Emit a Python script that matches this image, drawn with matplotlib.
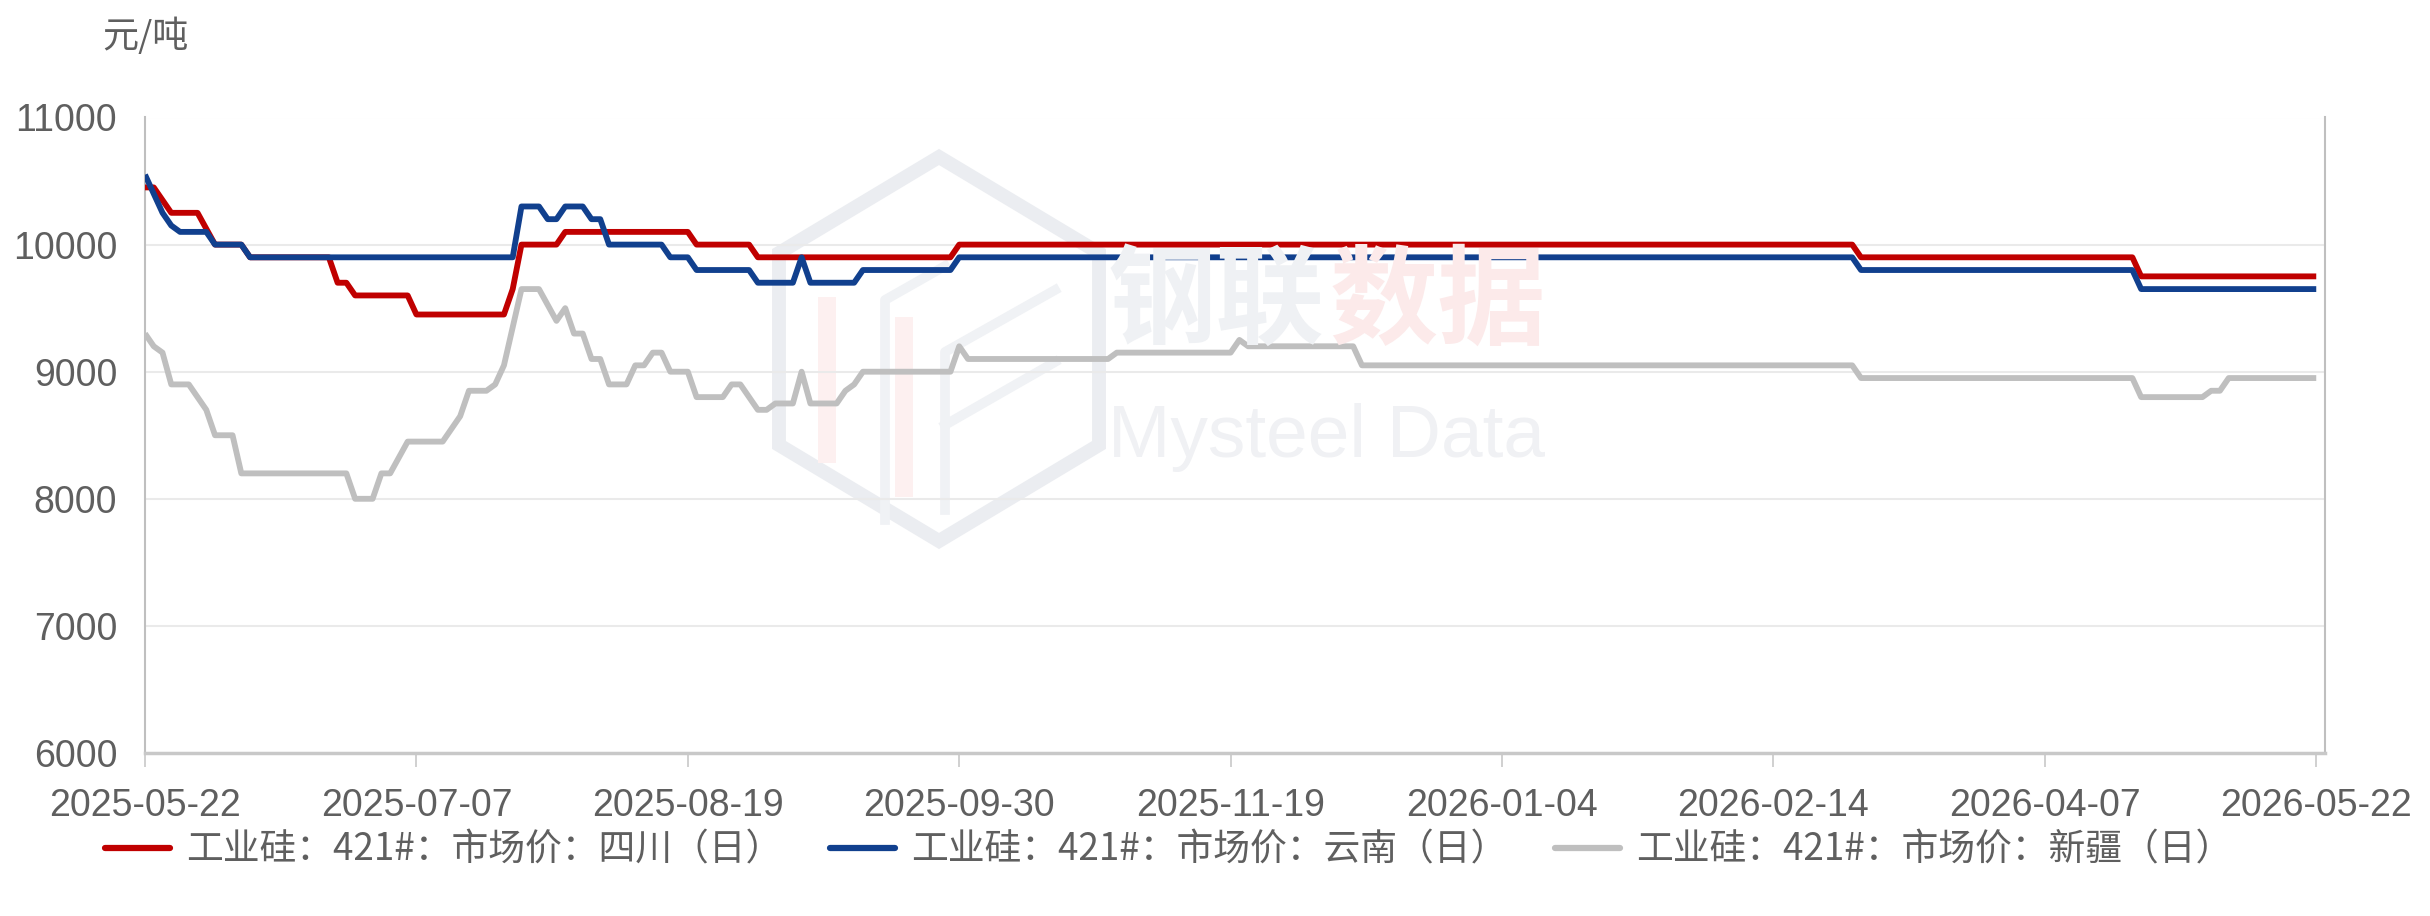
import numpy as np
import matplotlib
matplotlib.use("Agg")
import matplotlib.pyplot as plt
from matplotlib.lines import Line2D
from matplotlib.patches import Polygon, Rectangle

# x axis = trading-day index, labelled every 31 days
date_labels = ["2025-05-22", "2025-07-07", "2025-08-19", "2025-09-30", "2025-11-19",
               "2026-01-04", "2026-02-14", "2026-04-07", "2026-05-22"]
date_idx = [0, 31, 62, 93, 124, 155, 186, 217, 248]

# 四川
red_x = [0, 1, 3, 6, 8, 11, 12, 21, 22, 23, 24, 30, 31, 41, 42, 43, 47, 48, 62, 63,
         69, 70, 92, 93, 195, 196, 227, 228, 248]
red_y = [10450, 10450, 10250, 10250, 10000, 10000, 9900, 9900, 9700, 9700, 9600, 9600,
         9450, 9450, 9650, 10000, 10000, 10100, 10100, 10000, 10000, 9900, 9900, 10000,
         10000, 9900, 9900, 9750, 9750]

# 云南
blue_x = [0, 1, 2, 3, 4, 7, 8, 11, 12, 42, 43, 45, 46, 47, 48, 50, 51, 52, 53, 59, 60,
          62, 63, 69, 70, 74, 75, 76, 81, 82, 92, 93, 195, 196, 227, 228, 248]
blue_y = [10550, 10400, 10250, 10150, 10100, 10100, 10000, 10000, 9900, 9900, 10300,
          10300, 10200, 10200, 10300, 10300, 10200, 10200, 10000, 10000, 9900, 9900,
          9800, 9800, 9700, 9700, 9900, 9700, 9700, 9800, 9800, 9900, 9900, 9800, 9800,
          9650, 9650]

# 新疆
gray_x = [0, 1, 2, 3, 5, 6, 7, 8, 10, 11, 23, 24, 26, 27, 28, 30, 34, 36, 37, 39, 40,
          41, 42, 43, 45, 47, 48, 49, 50, 51, 52, 53, 55, 56, 57, 58, 59, 60, 62, 63,
          66, 67, 68, 70, 71, 72, 74, 75, 76, 79, 80, 81, 82, 92, 93, 94, 110, 111, 124,
          125, 126, 138, 139, 195, 196, 227, 228, 235, 236, 237, 238, 248]
gray_y = [9300, 9200, 9150, 8900, 8900, 8800, 8700, 8500, 8500, 8200, 8200, 8000, 8000,
          8200, 8200, 8450, 8450, 8650, 8850, 8850, 8900, 9050, 9350, 9650, 9650, 9400,
          9500, 9300, 9300, 9100, 9100, 8900, 8900, 9050, 9050, 9150, 9150, 9000, 9000,
          8800, 8800, 8900, 8900, 8700, 8700, 8750, 8750, 9000, 8750, 8750, 8850, 8900,
          9000, 9000, 9200, 9100, 9100, 9150, 9150, 9250, 9200, 9200, 9050, 9050, 8950,
          8950, 8800, 8800, 8850, 8850, 8950, 8950]

names = ["工业硅：421#：市场价：四川（日）",
         "工业硅：421#：市场价：云南（日）",
         "工业硅：421#：市场价：新疆（日）"]
colors = ["#C00000", "#11408E", "#BFBFBF"]

num_font = ["Liberation Sans", "DejaVu Sans"]
cjk_font = ["Noto Sans CJK SC", "DejaVu Sans"]
txt_color = "#5F5F5F"

W, H = 2430, 916
fig = plt.figure(figsize=(W / 100, H / 100), dpi=100)
ax = fig.add_axes([145 / W, 1 - 753 / H, 2180 / W, 635.5 / H])


def fpt(px, py):
    # picture pixel -> figure fraction
    return px / W, 1 - py / H


# faint watermark (logo + text) behind the lines
cx, cy, rx, ry = 939, 349, 160, 192
ang = np.radians([90, 150, 210, 270, 330, 30])
hex_pts = [fpt(cx + rx * np.cos(a) / 0.866, cy - ry * np.sin(a)) for a in ang]
ax.add_patch(Polygon(hex_pts, closed=True, fill=False, ec="#EBEDF1", lw=10,
                     joinstyle="miter", transform=fig.transFigure, zorder=0.2))
for seg in [[(945, 510), (945, 352), (1055, 290)],
            [(945, 425), (1055, 362)],
            [(885, 520), (885, 300), (945, 266)]]:
    xs, ys = zip(*[fpt(*p) for p in seg])
    ax.add_line(Line2D(xs, ys, color="#F0F2F5", lw=7, transform=fig.transFigure,
                       zorder=0.2))
for bx, top, bot in [(818, 297, 463), (895, 317, 497)]:
    x0, y0 = fpt(bx, bot)
    ax.add_patch(Rectangle((x0, y0), 18 / W, (bot - top) / H, fc="#FDF0F0",
                           ec="none", transform=fig.transFigure, zorder=0.2))
fig.text(1108 / W, 1 - 304 / H, "钢联", family=cjk_font, weight="bold", fontsize=78,
         color="#EFF1F4", ha="left", va="center", zorder=0.1)
fig.text(1330 / W, 1 - 304 / H, "数据", family=cjk_font, weight="bold", fontsize=78,
         color="#FCEAEA", ha="left", va="center", zorder=0.1)
fig.text(1108 / W, 1 - 457 / H, "Mysteel Data", family=["Liberation Sans", "DejaVu Sans"],
         fontsize=54, color="#F0F1F4", ha="left", va="baseline", zorder=0.1)
ax.patch.set_alpha(0)

ax.plot(red_x, red_y, color=colors[0], lw=4.2, solid_joinstyle="round",
        solid_capstyle="butt", zorder=3)
ax.plot(blue_x, blue_y, color=colors[1], lw=4.2, solid_joinstyle="round",
        solid_capstyle="butt", zorder=4)
ax.plot(gray_x, gray_y, color=colors[2], lw=4.2, solid_joinstyle="round",
        solid_capstyle="butt", zorder=2)

ax.set_xlim(0, 249)
ax.set_ylim(6000, 11000)
ax.set_yticks(range(6000, 11001, 1000))
ax.set_xticks(date_idx)
ax.set_xticklabels(date_labels)
ax.set_axisbelow(True)
ax.grid(axis="y", color="#EAEAEA", lw=1.5)

ax.spines["top"].set_visible(False)
for s in ["left", "right"]:
    ax.spines[s].set_color("#BFBFBF")
    ax.spines[s].set_linewidth(1.5)
ax.spines["bottom"].set_color("#C8C8C8")
ax.spines["bottom"].set_linewidth(2.5)

ax.tick_params(axis="y", length=0, pad=20, labelsize=27, labelcolor=txt_color)
ax.tick_params(axis="x", length=10, width=1.2, color="#C8C8C8", pad=15,
               labelsize=27, labelcolor=txt_color)
for lab in ax.get_xticklabels() + ax.get_yticklabels():
    lab.set_family(num_font)

fig.text(145 / W, 1 - 36 / H, "元/吨", family=cjk_font, fontsize=26, color=txt_color,
         ha="center", va="center")

handles = [Line2D([], [], color=c, lw=4.5, solid_capstyle="round") for c in colors]
leg = fig.legend(handles, names, loc="center", bbox_to_anchor=(1169 / W, 1 - 850 / H),
                 ncol=3, frameon=False, prop={"family": cjk_font, "size": 26.5},
                 handlelength=1.75, handletextpad=0.45, columnspacing=1.3)
for t in leg.get_texts():
    t.set_color(txt_color)

fig.savefig("out.png", dpi=100, facecolor="white")
